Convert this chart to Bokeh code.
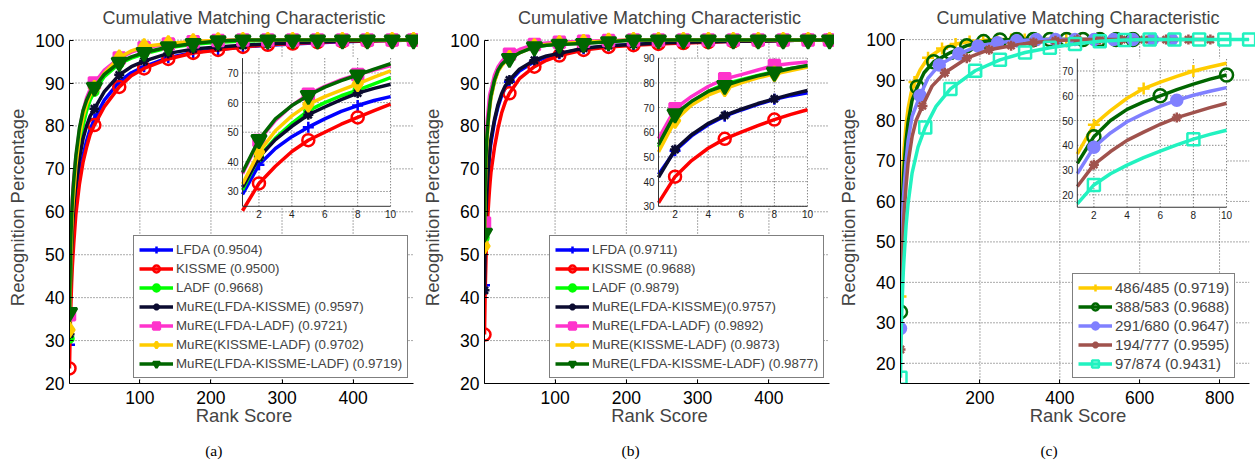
from bokeh.plotting import figure
from bokeh.models import Range1d, Legend, LegendItem, FixedTicker, LinearAxis
from bokeh.layouts import row
from bokeh.embed import file_html
from bokeh.resources import INLINE
from bokeh.core.properties import value

FONT = "Liberation Sans"
SERIF = "Liberation Serif"

# ------------------------------------------------------------------ data
TITLE = "Cumulative Matching Characteristic"
XLABEL = "Rank Score"
YLABEL = "Recognition Percentage"
CAPTIONS = ["(a)", "(b)", "(c)"]

RANKS_AB = [1, 2, 3, 4, 5, 6, 7, 8, 9, 10, 15, 20, 25, 30, 36, 50, 71, 88, 106, 140,
            175, 210, 245, 280, 315, 350, 385, 420, 455, 485]
MARK_AB = [1, 36, 71, 106, 140, 175, 210, 245, 280, 315, 350, 385, 420, 455, 485]
INSET_MARK_AB = [2, 5, 8]
YTICKS = [20, 30, 40, 50, 60, 70, 80, 90, 100]
XTICKS_AB = [100, 200, 300, 400]
XTICKS_C = [200, 400, 600, 800]
INSET_XTICKS = [2, 4, 6, 8, 10]

# panel (a)
A_LFDA = [29, 39, 44.5, 48.5, 51.7, 54.5, 57, 59, 60.7, 62, 68.5, 73, 76.5, 79.2, 81.6, 86, 90.3, 92.4, 93.8, 95.9,
          97.1, 97.8, 98.4, 98.8, 99.1, 99.4, 99.6, 99.8, 99.9, 100]
A_KISSME = [23.5, 32.7, 38.5, 43.5, 47.3, 50, 52.7, 55, 57.3, 59.5, 66.5, 71.5, 75, 78, 80.2, 84.5, 89.1, 91.7, 93.4, 95.6,
            97, 97.7, 98.4, 98.9, 99.2, 99.5, 99.7, 99.8, 99.9, 100]
A_LADF = [30.5, 41.7, 48, 53, 57.3, 60, 62.3, 64.2, 66.3, 68.4, 75.5, 80, 83.5, 86, 88, 91.5, 94.5, 95.8, 96.8, 98.2,
          99, 99.5, 99.8, 99.9, 100, 100, 100, 100, 100, 100]
A_LK = [31.5, 41.5, 47.5, 52, 55.9, 58.5, 61, 63.2, 64.8, 66.2, 72.5, 77, 80, 82.3, 84, 88, 91.9, 93.8, 95.1, 96.9,
        97.9, 98.4, 98.8, 99.1, 99.4, 99.6, 99.8, 99.9, 100, 100]
A_LL = [36, 47.2, 54, 59, 62.8, 65.5, 67.7, 69.5, 71, 72.5, 79, 83.5, 86.5, 88.5, 90, 93, 95.8, 97.2, 98.2, 99.1,
        99.6, 99.9, 100, 100, 100, 100, 100, 100, 100, 100]
A_KL = [32.5, 43.3, 50.5, 55.5, 59.4, 62, 64.2, 66.3, 68.6, 70.7, 77.5, 82, 85, 87.2, 88.8, 92.3, 95.9, 97.5, 98.5, 99.2,
        99.7, 99.9, 100, 100, 100, 100, 100, 100, 100, 100]
A_LKL = [36.5, 47.5, 54.5, 59, 62.4, 65.2, 67.4, 69.3, 71.3, 73.1, 79.5, 83.5, 86, 87.8, 89, 92, 94.8, 96.1, 97.1, 98.4,
         99.2, 99.8, 100, 100, 100, 100, 100, 100, 100, 100]
A_LABELS = ["LFDA (0.9504)", "KISSME (0.9500)", "LADF (0.9668)", "MuRE(LFDA-KISSME) (0.9597)",
            "MuRE(LFDA-LADF) (0.9721)", "MuRE(KISSME-LADF) (0.9702)", "MuRE(LFDA-KISSME-LADF) (0.9719)"]

# panel (b)
B_LFDA = [42.9, 52.5, 58.5, 63, 66.5, 69, 71.3, 73.3, 74.8, 76, 81, 84.5, 87, 88.8, 90.3, 92.8, 95, 96, 96.8, 98,
          98.6, 99, 99.2, 99.4, 99.6, 99.7, 99.8, 99.9, 100, 100]
B_KISSME = [31.4, 42, 48.5, 53.5, 57.3, 60, 62.7, 65.1, 67.2, 69.1, 75, 79.5, 83, 85.5, 87.6, 91, 93.8, 95.3, 96.4, 97.7,
            98.4, 98.8, 99.1, 99.3, 99.5, 99.7, 99.8, 99.9, 100, 100]
B_LADF = [54, 66.5, 72, 76.5, 79.5, 81.3, 83, 84.5, 85.8, 86.8, 90.5, 92.8, 94.2, 95.2, 96, 97.2, 98.4, 98.8, 99.1, 99.4,
          99.7, 100, 100, 100, 100, 100, 100, 100, 100, 100]
B_LK = [41.7, 53, 59, 63.5, 66.8, 69.3, 71.6, 73.5, 75.3, 76.9, 81.5, 85, 87.5, 89.3, 90.7, 93.2, 95.3, 96.3, 96.9, 98.1,
        98.7, 99, 99.3, 99.5, 99.6, 99.7, 99.8, 99.9, 100, 100]
B_LL = [57.4, 69.5, 74.5, 78.5, 81.6, 83.3, 85.2, 87, 87.8, 88.4, 91.8, 93.8, 95, 96, 96.7, 97.8, 99, 99.3, 99.5, 99.7,
        99.9, 100, 100, 100, 100, 100, 100, 100, 100, 100]
B_KL = [52, 64.7, 71, 75, 77.6, 80, 82, 83.6, 85, 86.4, 90.3, 92.7, 94, 95, 95.8, 97, 98.5, 99, 99.2, 99.5,
        99.8, 100, 100, 100, 100, 100, 100, 100, 100, 100]
B_LKL = [55, 67.4, 72.5, 76.5, 78.9, 81, 82.8, 84.3, 85.8, 87, 90.7, 93, 94.3, 95.1, 95.7, 97, 98.4, 98.8, 99, 99.2,
         99.6, 100, 100, 100, 100, 100, 100, 100, 100, 100]
B_LABELS = ["LFDA (0.9711)", "KISSME (0.9688)", "LADF (0.9879)", "MuRE(LFDA-KISSME)(0.9757)",
            "MuRE(LFDA-LADF) (0.9892)", "MuRE(KISSME-LADF) (0.9873)", "MuRE(LFDA-KISSME-LADF) (0.9877)"]

# panel (c)
C_R1 = [1, 2, 3, 4, 5, 6, 7, 8, 9, 10, 15, 20, 28, 36, 50, 70, 105, 139, 174, 208, 243, 278, 312, 347, 381, 416, 450, 485]
C_V1 = [36.5, 48.3, 54, 59, 62.9, 65.5, 67.8, 70, 71.6, 73.1, 79, 83, 87, 89.5, 92.5, 95.5, 97.8, 98.9, 99.5, 99.8,
        100, 100, 100, 100, 100, 100, 100, 100]
C_M1 = [1, 36, 70, 105, 139, 174, 208, 243, 278, 312, 347, 381, 416, 450, 485]
C_I1 = [2, 5, 8]

C_R2 = [1, 2, 3, 4, 5, 6, 7, 8, 9, 10, 15, 20, 30, 43, 60, 84, 126, 167, 209, 250, 292, 334, 375, 417, 458, 500, 541, 583]
C_V2 = [32.7, 43.5, 50, 54.5, 57.5, 60, 62.5, 64.7, 66.7, 68.4, 75, 79.5, 85, 88.3, 91.8, 94.5, 96.8, 98.5, 99.5, 99.9,
        100, 100, 100, 100, 100, 100, 100, 100]
C_M2 = [1, 43, 84, 126, 167, 209, 250, 292, 334, 375, 417, 458, 500, 541, 583]
C_I2 = [2, 6, 10]

C_R3 = [1, 2, 3, 4, 5, 6, 7, 8, 9, 10, 15, 20, 30, 50, 70, 98, 147, 195, 244, 292, 341, 389, 438, 486, 535, 583, 632, 680]
C_V3 = [28.6, 39.2, 45, 49.5, 52.8, 55.7, 58.2, 60.2, 61.8, 63.3, 70, 75, 81, 86.2, 90.5, 93.7, 96.5, 98.4, 99.2, 99.7,
        100, 100, 100, 100, 100, 100, 100, 100]
C_M3 = [1, 50, 98, 147, 195, 244, 292, 341, 389, 438, 486, 535, 583, 632, 680]
C_I3 = [2, 7]

C_R4 = [1, 2, 3, 4, 5, 6, 7, 8, 9, 10, 15, 20, 30, 40, 56, 80, 112, 167, 223, 278, 334, 389, 444, 500, 555, 611, 666,
        722, 777]
C_V4 = [23.4, 32.2, 37.5, 42, 45.3, 48.5, 51.2, 53.2, 55.2, 57, 64, 69.5, 76, 80, 83.6, 88.5, 91.8, 95.4, 97.5, 98.5,
        99.3, 99.7, 100, 100, 100, 100, 100, 100, 100]
C_M4 = [1, 56, 112, 167, 223, 278, 334, 389, 444, 500, 555, 611, 666, 722, 777]
C_I4 = [2, 7]

C_R5 = [1, 2, 3, 4, 5, 6, 7, 8, 9, 10, 15, 20, 30, 45, 63, 90, 126, 188, 250, 313, 375, 438, 500, 562, 625, 687, 749,
        812, 874]
C_V5 = [16.4, 24, 28.5, 32, 35, 37.7, 40.2, 42.5, 44.4, 46.1, 54, 59.5, 67, 73.5, 78.3, 83.5, 87.8, 92.3, 95, 96.8,
        98, 98.9, 99.6, 99.9, 100, 100, 100, 100, 100]
C_M5 = [1, 63, 126, 188, 250, 313, 375, 438, 500, 562, 625, 687, 749, 812, 874]
C_I5 = [2, 8]
C_LABELS = ["486/485 (0.9719)", "388/583 (0.9688)", "291/680 (0.9647)", "194/777 (0.9595)", "97/874 (0.9431)"]

# ------------------------------------------------------------------ styles
STYLE_AB = [  # color, marker, size, filled
    ("#0000ff", "cross", 11, True),
    ("#ff0000", "circle", 12, False),
    ("#00ff00", "circle", 8, True),
    ("#0b0b30", "asterisk", 10, False),
    ("#ff33cc", "square", 11, True),
    ("#ffcc00", "diamond", 15, True),
    ("#006600", "inverted_triangle", 15, True),
]
STYLE_C = [
    ("#ffcc00", "cross", 12, True),
    ("#006600", "circle", 13, False),
    ("#8080ff", "circle", 11, True),
    ("#a0524d", "asterisk", 10, False),
    ("#22f2c0", "square", 12, False),
]
GRID_COLOR = "#555555"
GRID_DASH = "1 2"


def draw(api, xs, ys, marks, style, lw=3.5):
    color, marker, size, filled = style
    lr = api.line(xs, ys, line_color=color, line_width=lw)
    my = [ys[xs.index(m)] for m in marks]
    sr = api.scatter(marks, my, marker=marker, size=size, line_color=color, fill_color=color,
                     fill_alpha=1 if filled else 0, line_width=2.5)
    return lr, sr


def base_fig(width, left, xlim, xpad, ylim, xticks, caption, cap_at):
    top = 31
    p = figure(width=width, height=462, x_range=Range1d(xlim[0], xlim[1] + xpad),
               y_range=Range1d(ylim[0], 102), output_backend="svg", toolbar_location=None,
               min_border_left=left, min_border_right=0, min_border_top=top,
               min_border_bottom=462 - 383)
    p.title.text = TITLE
    p.title.align = "center"
    p.title.text_font = FONT
    p.title.text_font_size = "18px"
    p.title.text_font_style = "normal"
    p.title.standoff = 8
    p.outline_line_color = None
    p.xgrid.visible = False
    p.ygrid.visible = False
    p.xaxis.ticker = FixedTicker(ticks=xticks)
    p.yaxis.ticker = FixedTicker(ticks=YTICKS)
    p.xaxis.bounds = xlim
    p.yaxis.bounds = (ylim[0], 100)
    for ax in (p.xaxis, p.yaxis):
        ax.major_label_text_font = FONT
        ax.major_label_text_font_size = "17.5px"
        ax.major_label_text_color = "black"
        ax.axis_label_text_font = FONT
        ax.axis_label_text_font_size = "18.5px"
        ax.axis_label_text_font_style = "normal"
        ax.axis_line_color = "black"
        ax.major_tick_in = 4
        ax.major_tick_out = 0
        ax.major_tick_line_color = "black"
        ax.minor_tick_line_color = None
    p.xaxis.major_label_standoff = 7
    p.yaxis.major_label_standoff = 5
    p.xaxis.axis_label = XLABEL
    p.yaxis.axis_label = YLABEL
    p.xaxis.axis_label_standoff = -2
    p.yaxis.axis_label_standoff = 4
    # caption "(a)" etc. under the x axis label (a label-only axis)
    cap = LinearAxis(ticker=FixedTicker(ticks=[cap_at]), major_label_overrides={cap_at: caption},
                     axis_line_color=None, major_tick_line_color=None, minor_tick_line_color=None,
                     major_label_standoff=13, major_tick_in=0, major_tick_out=0,
                     major_label_text_font=SERIF, major_label_text_font_size="15.5px",
                     major_label_text_color="black")
    p.add_layout(cap, "below")
    # dotted grid limited to the axes box
    p.segment(x0=[xlim[0]] * len(YTICKS), x1=[xlim[1]] * len(YTICKS), y0=YTICKS, y1=YTICKS,
              line_color=GRID_COLOR, line_dash=GRID_DASH, line_width=1)
    p.segment(x0=xticks, x1=xticks, y0=[ylim[0]] * len(xticks), y1=[100] * len(xticks),
              line_color=GRID_COLOR, line_dash=GRID_DASH, line_width=1)
    return p


def inset(p, xt, yt, yr, yticks):
    p.quad(left=[xt[0]], right=[xt[1]], bottom=[yt[0]], top=[yt[1]], fill_color="white", line_color=None)
    sub = p.subplot(x_source=Range1d(1, 10), y_source=Range1d(*yr),
                    x_target=Range1d(*xt), y_target=Range1d(*yt))
    n = len(INSET_XTICKS)
    sub.segment(x0=[1] * len(yticks), x1=[10] * len(yticks), y0=yticks, y1=yticks,
                line_color=GRID_COLOR, line_dash=GRID_DASH, line_width=1)
    sub.segment(x0=INSET_XTICKS, x1=INSET_XTICKS, y0=[yr[0]] * n, y1=[yr[1]] * n,
                line_color=GRID_COLOR, line_dash=GRID_DASH, line_width=1)
    return sub


def inset_axes(sub, yr, yticks):
    n = len(INSET_XTICKS)
    sub.segment(x0=[1, 1], x1=[1, 10], y0=[yr[0], yr[0]], y1=[yr[1], yr[0]],
                line_color="#333333", line_width=1)
    sub.text(x=[1] * len(yticks), y=yticks, text=[str(t) for t in yticks], x_offset=-4,
             text_align="right", text_baseline="middle", text_font=value(FONT),
             text_font_size="10px", text_color="#222222")
    sub.text(x=INSET_XTICKS, y=[yr[0]] * n, text=[str(t) for t in INSET_XTICKS], y_offset=4,
             text_align="center", text_baseline="top", text_font=value(FONT),
             text_font_size="10px", text_color="#222222")


def legend(p, items, font_size, loc):
    lg = Legend(items=items, location=loc, margin=0, padding=5, spacing=2,
                glyph_width=34, glyph_height=17, label_height=17, label_standoff=3,
                label_text_font=FONT, label_text_font_size=font_size,
                border_line_color="black", border_line_width=1.5,
                background_fill_color="white", background_fill_alpha=1)
    p.add_layout(lg)


def panel_ab(width, left, series, labels, inset_x, inset_yr, inset_yticks, caption, cap_at, leg_x):
    p = base_fig(width, left, (1, 485), 7, (20, 100), XTICKS_AB, caption, cap_at)
    items = []
    for ys, st, lab in zip(series, STYLE_AB, labels):
        lr, sr = draw(p, RANKS_AB, ys, MARK_AB, st)
        items.append(LegendItem(label=lab, renderers=[lr, sr]))
    sub = inset(p, inset_x, (61.28, 95.8), inset_yr, inset_yticks)
    for ys, st in zip(series, STYLE_AB):
        draw(sub, RANKS_AB[:10], ys[:10], INSET_MARK_AB, st)
    inset_axes(sub, inset_yr, inset_yticks)
    legend(p, items, "13.3px", (leg_x, 5))
    return p


pa = panel_ab(418, 69, [A_LFDA, A_KISSME, A_LADF, A_LK, A_LL, A_KL, A_LKL], A_LABELS,
              (244.4, 452.7), (25, 75), [30, 40, 50, 60, 70], CAPTIONS[0], 204, 64)
pb = panel_ab(416, 66, [B_LFDA, B_KISSME, B_LADF, B_LK, B_LL, B_KL, B_LKL], B_LABELS,
              (245.1, 454.1), (30, 90), [30, 40, 50, 60, 70, 80, 90], CAPTIONS[1], 206, 65)

# panel (c)
pc = base_fig(421, 66, (1, 874), 16, (15, 100), XTICKS_C, CAPTIONS[2], 373)
C_SERIES = [(C_R1, C_V1, C_M1, C_I1), (C_R2, C_V2, C_M2, C_I2), (C_R3, C_V3, C_M3, C_I3),
            (C_R4, C_V4, C_M4, C_I4), (C_R5, C_V5, C_M5, C_I5)]
c_items = []
for (rs, vs, ms, _), st, lab in zip(C_SERIES, STYLE_C, C_LABELS):
    lr, sr = draw(pc, rs, vs, ms, st)
    c_items.append(LegendItem(label=lab, renderers=[lr, sr]))
subc = inset(pc, (443.8, 817.5), (58.56, 95.3), (15, 75), [20, 30, 40, 50, 60, 70])
for (rs, vs, _, ins), st in zip(C_SERIES, STYLE_C):
    draw(subc, rs[:10], vs[:10], ins, st)
inset_axes(subc, (15, 75), [20, 30, 40, 50, 60, 70])
legend(pc, c_items, "15px", (172, 5))

layout = row(pa, pb, pc)
open("out.html", "w").write(file_html(layout, INLINE))
